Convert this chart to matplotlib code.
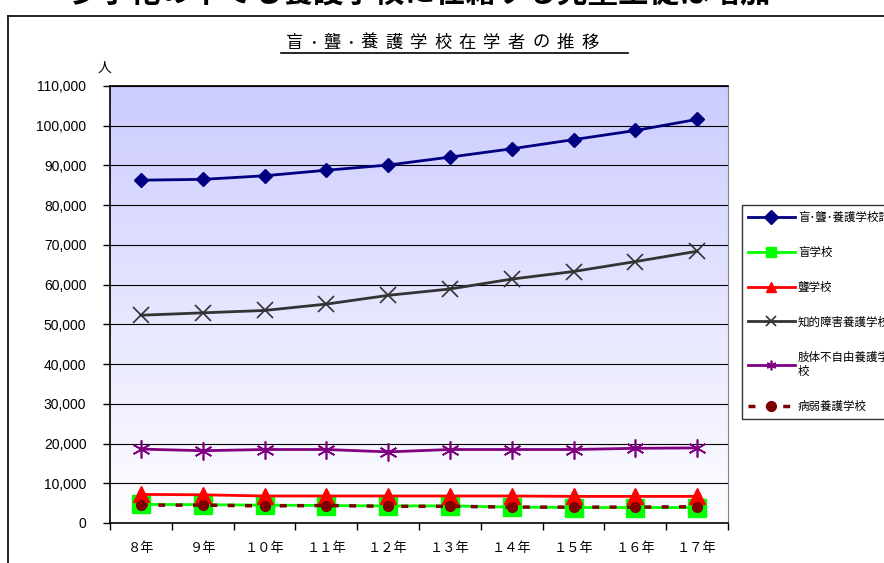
import matplotlib
matplotlib.use("Agg")
import matplotlib.pyplot as plt
import numpy as np
from matplotlib.ticker import FuncFormatter, FixedLocator

years = ["８年", "９年", "１０年", "１１年", "１２年", "１３年", "１４年", "１５年", "１６年", "１７年"]
total = [86300, 86500, 87400, 88800, 90100, 92100, 94200, 96500, 98800, 101600]
mou = [4700, 4600, 4500, 4400, 4300, 4300, 4000, 3900, 3900, 3900]
rou = [7200, 7100, 6800, 6800, 6800, 6800, 6800, 6700, 6700, 6700]
chiteki = [52300, 52900, 53500, 55100, 57300, 58900, 61400, 63300, 65800, 68400]
shitai = [18600, 18200, 18500, 18500, 17900, 18500, 18500, 18500, 18800, 18900]
byojaku = [4500, 4500, 4300, 4400, 4200, 4200, 4000, 4000, 4000, 4100]

labels = ["盲･聾･養護学校計", "盲学校", "聾学校", "知的障害養護学校", "肢体不自由養護学\n校", "病弱養護学校"]

plt.rcParams['font.family'] = ['Noto Sans CJK JP', 'DejaVu Sans']

W, H = 884, 563
fig = plt.figure(figsize=(W/100, H/100), dpi=100)

# outer frame
fig.add_artist(plt.Line2D([8/W, 1.0], [1-16/H, 1-16/H], transform=fig.transFigure, color='black', lw=1.2))
fig.add_artist(plt.Line2D([8/W, 8/W], [0, 1-16/H], transform=fig.transFigure, color='black', lw=1.2))

# cut-off heading
fig.text(420/W, 1+7/H, "少子化の中でも養護学校に在籍する児童生徒は増加", ha='center', va='center',
         fontsize=22, fontweight='bold', color='black')

left, right, top, bottom = 110, 728, 86, 523
ax = fig.add_axes([left/W, (H-bottom)/H, (right-left)/W, (bottom-top)/H])

x = np.arange(len(years))
ax.set_xlim(-0.5, len(years)-0.5)
ax.set_ylim(0, 110000)

# gradient background
grad = np.linspace(0, 1, 256).reshape(-1, 1)
c_top = np.array([204, 204, 255]) / 255
c_bot = np.array([254, 254, 255]) / 255
img = c_bot + (c_top - c_bot) * grad
img = img.reshape(256, 1, 3)
ax.imshow(img, extent=[-0.5, len(years)-0.5, 0, 110000], origin='lower', aspect='auto', zorder=0)

for yv in range(10000, 110001, 10000):
    ax.axhline(yv, color='black', lw=0.8, zorder=1)

ax.plot(x, total, color='#000080', lw=2, marker='D', ms=7.5, label=labels[0], zorder=5)
ax.plot(x, mou, color='#00ff00', lw=2, marker='s', ms=13, label=labels[1], zorder=3)
ax.plot(x, rou, color='#ff0000', lw=2, marker='^', ms=12, label=labels[2], zorder=4)
ax.plot(x, chiteki, color='#333333', lw=2, marker='x', ms=11, mew=1.2, label=labels[3], zorder=5)
ax.plot(x, shitai, color='#800080', lw=2, marker=(6, 2, 0), ms=13, mew=1.2, label=labels[4], zorder=5)
ax.plot(x, byojaku, color='#800000', lw=2.5, ls=(0, (2, 3)), marker='o', ms=7, label=labels[5], zorder=6)

ax.yaxis.set_major_locator(FixedLocator(range(0, 110001, 10000)))
ax.yaxis.set_major_formatter(FuncFormatter(lambda v, p: f"{int(v):,}"))
ax.tick_params(axis='y', labelsize=10, length=5, direction='out', width=1, pad=12)
for t in ax.get_yticklabels():
    t.set_fontfamily(['Liberation Sans', 'DejaVu Sans'])

ax.set_xticks(np.arange(-0.5, len(years)-0.4, 1.0))
ax.set_xticklabels([])
ax.set_xticks(x, minor=True)
ax.set_xticklabels(years, minor=True, fontsize=9.5)
ax.tick_params(axis='x', which='major', length=5, direction='out', width=1)
ax.tick_params(axis='x', which='minor', length=0, pad=14)

for s in ['left', 'bottom', 'top']:
    ax.spines[s].set_color('black')
    ax.spines[s].set_linewidth(1.2)
ax.spines['right'].set_color('#808080')

# title with letter spacing
title = "盲･聾･養護学校在学者の推移"
chars = list(title)
pos = []
cx = 282
for ch in chars:
    w = 13 if ch == '･' else 24.5
    pos.append(cx + w/2)
    cx += w
for ch, px in zip(chars, pos):
    fig.text(px/W, 1-43/H, ch, ha='center', va='center', fontsize=12.5)
fig.add_artist(plt.Line2D([281/W, 628/W], [1-53/H, 1-53/H], transform=fig.transFigure, color='black', lw=1.2))

fig.text(104/W, 1-68/H, "人", ha='center', va='center', fontsize=10)

leg = fig.legend(loc='upper left', bbox_to_anchor=(742/W, 1-205/H), fontsize=8.3,
                 handlelength=4.1, labelspacing=1.9, frameon=True, fancybox=False,
                 edgecolor='black', borderpad=0.5, handletextpad=0.25, borderaxespad=0)
leg.get_frame().set_linewidth(1.0)
for h in leg.legend_handles:
    h.set_markersize(7)

fig.savefig("out.png", dpi=100)
